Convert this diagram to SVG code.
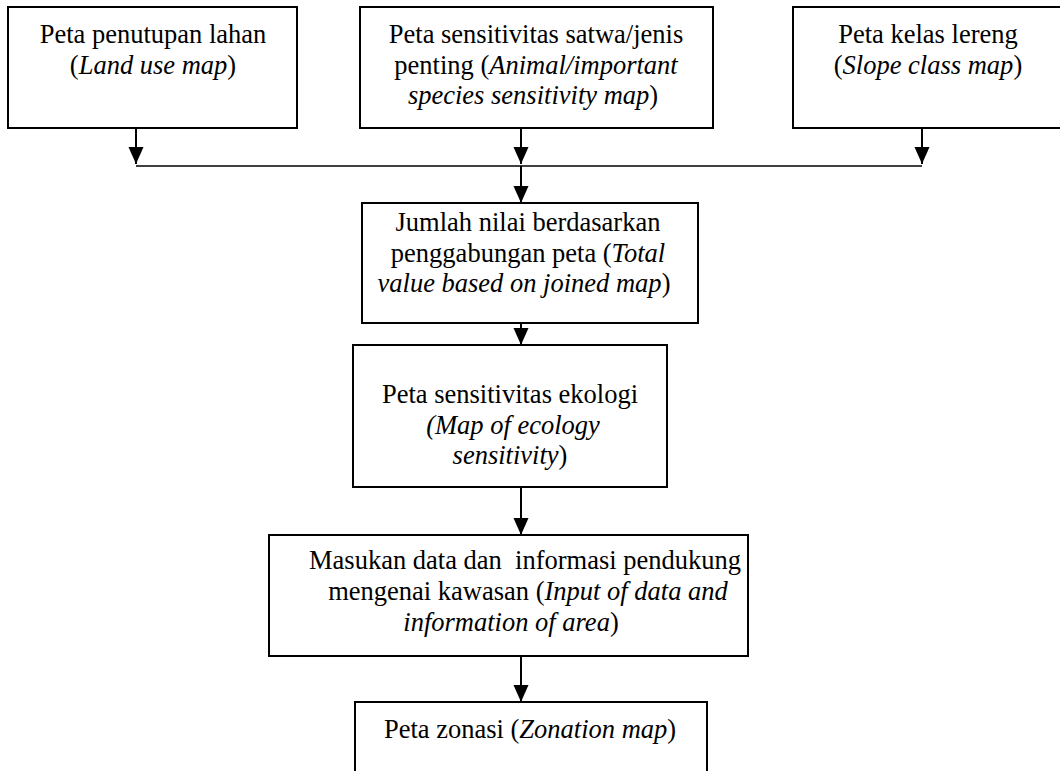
<svg xmlns="http://www.w3.org/2000/svg" width="1060" height="771" viewBox="0 0 1060 771">
<style>
.box{fill:#fff;stroke:#000;stroke-width:2}
.t{font-family:"Liberation Serif","Times New Roman",serif;font-size:26.5px;fill:#000;text-anchor:middle}
.i{font-style:italic}
.c{stroke:#000;stroke-width:2;fill:none}
.h{stroke:#000;stroke-width:1.5;fill:none}
</style>
<defs>
<marker id="ah" markerWidth="17" markerHeight="16" refX="17" refY="8" orient="auto" markerUnits="userSpaceOnUse">
<path d="M0,0.5 L17,8 L0,15.5 Z" fill="#000"/>
</marker>
</defs>
<rect width="1060" height="771" fill="#fff"/>
<g id="n1">
<rect class="box" x="8" y="7" width="289" height="121"/>
<text class="t" x="153" y="43">Peta penutupan lahan</text>
<text class="t" x="153" y="74">(<tspan class="i">Land use map</tspan>)</text>
</g>
<g id="n2">
<rect class="box" x="360" y="7" width="353" height="121"/>
<text class="t" x="536" y="43">Peta sensitivitas satwa/jenis</text>
<text class="t" x="536" y="74">penting (<tspan class="i">Animal/important</tspan></text>
<text class="t" x="533" y="104"><tspan class="i">species sensitivity map</tspan>)</text>
</g>
<g id="n3">
<rect class="box" x="793" y="7" width="280" height="121"/>
<text class="t" x="928" y="43">Peta kelas lereng</text>
<text class="t" x="928" y="74">(<tspan class="i">Slope class map</tspan>)</text>
</g>
<g id="n4">
<rect class="box" x="362" y="203" width="336" height="120"/>
<text class="t" x="528" y="231">Jumlah nilai berdasarkan</text>
<text class="t" x="528" y="262">penggabungan peta (<tspan class="i">Total</tspan></text>
<text class="t" x="524" y="292"><tspan class="i">value based on joined map</tspan>)</text>
</g>
<g id="n5">
<rect class="box" x="353" y="345" width="314" height="142"/>
<text class="t" x="510" y="403">Peta sensitivitas ekologi</text>
<text class="t i" x="513" y="434">(Map of ecology</text>
<text class="t" x="510" y="464"><tspan class="i">sensitivity</tspan>)</text>
</g>
<g id="n6">
<rect class="box" x="269" y="535" width="479" height="121"/>
<text class="t" x="525" y="569" xml:space="preserve">Masukan data dan  informasi pendukung</text>
<text class="t" x="528" y="600">mengenai kawasan (<tspan class="i">Input of data and</tspan></text>
<text class="t" x="511" y="631"><tspan class="i">information of area</tspan>)</text>
</g>
<g id="n7">
<rect class="box" x="355" y="702" width="352" height="100"/>
<text class="t" x="530" y="738">Peta zonasi (<tspan class="i">Zonation map</tspan>)</text>
</g>
<g id="connectors">
<line class="c" x1="136" y1="128" x2="136" y2="164" marker-end="url(#ah)"/>
<line class="c" x1="521" y1="128" x2="521" y2="164" marker-end="url(#ah)"/>
<line class="c" x1="922" y1="128" x2="922" y2="164" marker-end="url(#ah)"/>
<line class="h" x1="136" y1="166" x2="922" y2="166"/>
<line class="c" x1="521" y1="166" x2="521" y2="203" marker-end="url(#ah)"/>
<line class="c" x1="521" y1="323" x2="521" y2="345" marker-end="url(#ah)"/>
<line class="c" x1="521" y1="487" x2="521" y2="535" marker-end="url(#ah)"/>
<line class="c" x1="521" y1="656" x2="521" y2="702" marker-end="url(#ah)"/>
</g>
</svg>
